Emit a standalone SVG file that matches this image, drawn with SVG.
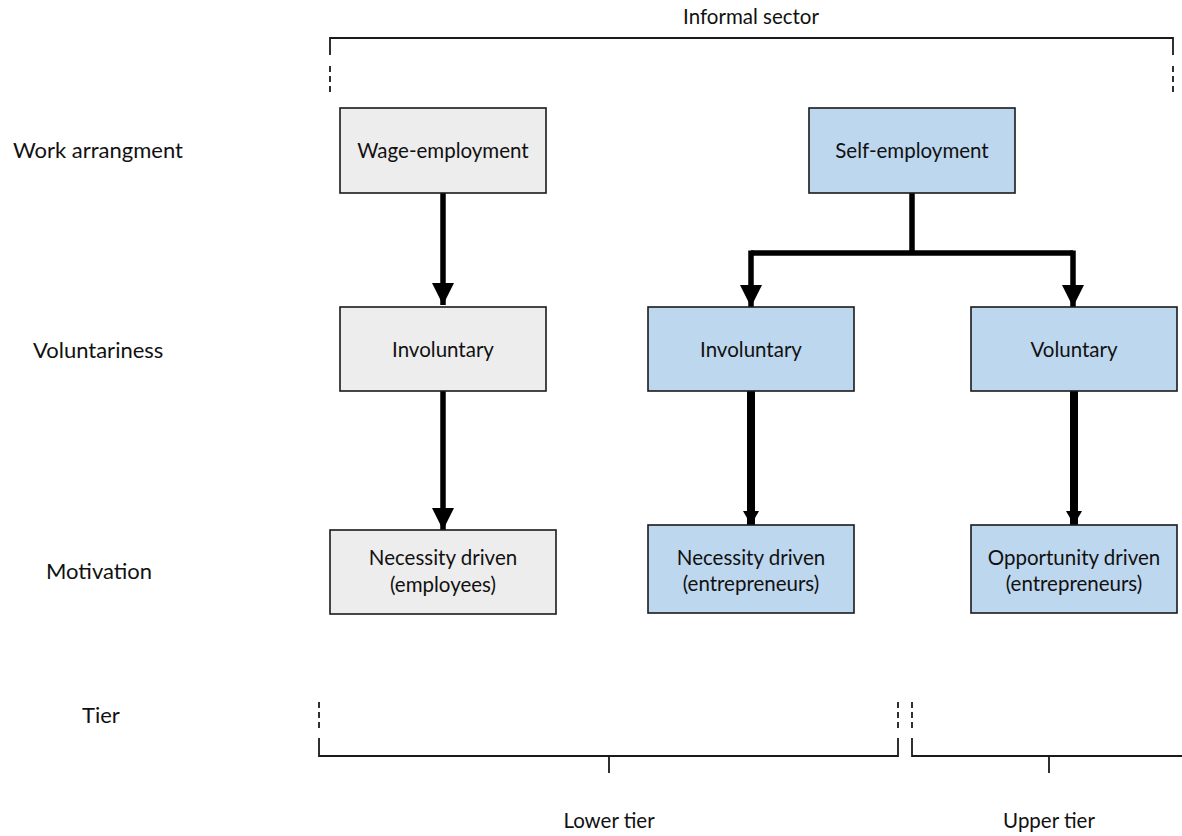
<svg xmlns="http://www.w3.org/2000/svg" width="1182" height="836" viewBox="0 0 1182 836">
  <style>
    .lbl { font-family: Lato, "Liberation Sans", sans-serif; font-size: 20.5px; fill: #111; }
    .row { font-size: 22px; }
    .mid { text-anchor: middle; }
    .box-gray { fill: #ededed; stroke: #1a1a1a; stroke-width: 1.6; }
    .box-blue { fill: #bdd7ee; stroke: #1a1a1a; stroke-width: 1.6; }
    .brk { fill: none; stroke: #1a1a1a; stroke-width: 1.8; }
    .dash { fill: none; stroke: #1a1a1a; stroke-width: 1.8; stroke-dasharray: 6 4; }
    .flow { fill: none; stroke: #000; stroke-width: 5.5; }
    .flow-thick { fill: none; stroke: #000; stroke-width: 8; }
  </style>
  <defs>
    <marker id="head" markerUnits="userSpaceOnUse" viewBox="0 0 22 22" markerWidth="22" markerHeight="22" refX="22" refY="11" orient="auto">
      <path d="M0,0 L22,11 L0,22 Z" fill="#000"/>
    </marker>
    <marker id="head-s" markerUnits="userSpaceOnUse" viewBox="0 0 14 16" markerWidth="14" markerHeight="16" refX="14" refY="8" orient="auto">
      <path d="M0,0 L14,8 L0,16 Z" fill="#000"/>
    </marker>
  </defs>

  <rect width="1182" height="836" fill="#fff"/>

  <!-- row labels -->
  <g id="row-labels">
    <text class="lbl row" x="13" y="158">Work arrangment</text>
    <text class="lbl row" x="33" y="358">Voluntariness</text>
    <text class="lbl row" x="46" y="579">Motivation</text>
    <text class="lbl row" x="82" y="723">Tier</text>
  </g>

  <!-- informal sector bracket -->
  <g id="informal-sector">
    <text class="lbl mid" x="751" y="24">Informal sector</text>
    <path class="brk" d="M330,55 V38 H1173 V55"/>
    <path class="dash" d="M330,66 V93 M1173,66 V93"/>
  </g>

  <!-- connectors -->
  <g id="connectors">
    <path class="flow" d="M443,193 V305" marker-end="url(#head)"/>
    <path class="flow" d="M443,391 V530" marker-end="url(#head)"/>
    <path class="flow" d="M912,193 V253 M751,253 H1073"/>
    <path class="flow" d="M751,250.5 V307" marker-end="url(#head)"/>
    <path class="flow" d="M1073,250.5 V307" marker-end="url(#head)"/>
    <path class="flow-thick" d="M751,391 V525" marker-end="url(#head-s)"/>
    <path class="flow-thick" d="M1074,391 V525" marker-end="url(#head-s)"/>
  </g>

  <g id="wage-employment">
    <rect class="box-gray" x="340" y="108" width="206" height="85"/>
    <text class="lbl mid" x="443" y="158">Wage-employment</text>
  </g>
  <g id="self-employment">
    <rect class="box-blue" x="809" y="108" width="206" height="85"/>
    <text class="lbl mid" x="912" y="158">Self-employment</text>
  </g>

  <g id="wage-involuntary">
    <rect class="box-gray" x="340" y="307" width="206" height="84"/>
    <text class="lbl mid" x="443" y="357">Involuntary</text>
  </g>
  <g id="self-involuntary">
    <rect class="box-blue" x="648" y="307" width="206" height="84"/>
    <text class="lbl mid" x="751" y="357">Involuntary</text>
  </g>
  <g id="self-voluntary">
    <rect class="box-blue" x="971" y="307" width="206" height="84"/>
    <text class="lbl mid" x="1074" y="357">Voluntary</text>
  </g>

  <g id="necessity-employees">
    <rect class="box-gray" x="330" y="530" width="226" height="84"/>
    <text class="lbl mid" x="443" y="565">Necessity driven</text>
    <text class="lbl mid" x="443" y="592">(employees)</text>
  </g>
  <g id="necessity-entrepreneurs">
    <rect class="box-blue" x="648" y="525" width="206" height="88"/>
    <text class="lbl mid" x="751" y="565">Necessity driven</text>
    <text class="lbl mid" x="751" y="591">(entrepreneurs)</text>
  </g>
  <g id="opportunity-entrepreneurs">
    <rect class="box-blue" x="971" y="525" width="206" height="88"/>
    <text class="lbl mid" x="1074" y="565">Opportunity driven</text>
    <text class="lbl mid" x="1074" y="591">(entrepreneurs)</text>
  </g>

  <!-- tier brackets -->
  <g id="lower-tier">
    <path class="brk" d="M319,738 V756 H898 V738 M609,756 V773"/>
    <path class="dash" d="M319,702 V729 M898,702 V729"/>
    <text class="lbl mid" x="609" y="828">Lower tier</text>
  </g>
  <g id="upper-tier">
    <path class="brk" d="M912,738 V756 H1186 M1049,756 V773"/>
    <path class="dash" d="M912,702 V729"/>
    <text class="lbl mid" x="1049" y="828">Upper tier</text>
  </g>
</svg>
